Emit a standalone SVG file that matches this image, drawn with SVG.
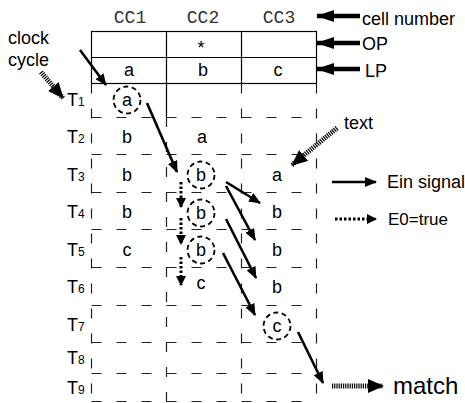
<svg xmlns="http://www.w3.org/2000/svg" width="465" height="403" viewBox="0 0 465 403">
<defs>
<style>
.t{font-family:"Liberation Sans",Arial,sans-serif;fill:#000}
.cell{font-size:18px;text-anchor:middle}
.hdr{font-family:"Liberation Mono","Courier New",monospace;font-size:18px;fill:#333;text-anchor:middle}
.lbl{font-size:18px}
.grid{stroke:#222;stroke-width:1.2;fill:none;stroke-dasharray:10 15}
.solid{stroke:#000;stroke-width:1.2;fill:none}
.circ{stroke:#000;stroke-width:1.8;fill:none;stroke-dasharray:5 3.5}
.ein{stroke:#000;stroke-width:2.6;fill:none;marker-end:url(#ah)}
.e0{stroke:#000;stroke-width:3;fill:none;stroke-dasharray:2.5 2;marker-end:url(#ah2)}
.big{stroke:#000;stroke-width:4.5;fill:none;marker-end:url(#ahb)}
.hatch{stroke:#000;stroke-width:5;fill:none;stroke-dasharray:1.2 1;marker-end:url(#ahh)}
</style>
<marker id="ah" viewBox="0 0 12 10" refX="11" refY="5" markerWidth="12" markerHeight="10" markerUnits="userSpaceOnUse" orient="auto"><path d="M0,0 L12,5 L0,10 z" fill="#000"/></marker>
<marker id="ah2" viewBox="0 0 10 10" refX="9" refY="5" markerWidth="10" markerHeight="10" markerUnits="userSpaceOnUse" orient="auto"><path d="M0,0 L10,5 L0,10 z" fill="#000"/></marker>
<marker id="ahb" viewBox="0 0 18 12" refX="17" refY="6" markerWidth="18" markerHeight="12" markerUnits="userSpaceOnUse" orient="auto"><path d="M0,0 L18,6 L0,12 z" fill="#000"/></marker>
<marker id="ahh" viewBox="0 0 16 14" refX="15" refY="7" markerWidth="16" markerHeight="14" markerUnits="userSpaceOnUse" orient="auto"><path d="M0,0 L16,7 L0,14 z" fill="#000"/></marker>
</defs>

<g id="table">
<rect class="solid" x="91.5" y="31.5" width="225" height="52"/>
<line class="solid" x1="91.5" y1="57.5" x2="316.5" y2="57.5"/>
<line class="solid" x1="166.5" y1="31.5" x2="166.5" y2="117"/>
<line class="solid" x1="241.5" y1="31.5" x2="241.5" y2="83.5"/>
<line class="grid" x1="91.5" y1="83.5" x2="91.5" y2="402"/>
<line class="grid" x1="166.5" y1="117" x2="166.5" y2="402"/>
<line class="grid" x1="241.5" y1="83.5" x2="241.5" y2="402"/>
<line class="grid" x1="316.5" y1="83.5" x2="316.5" y2="402"/>
<line class="grid" x1="91.5" y1="117.5" x2="316.5" y2="117.5"/>
<line class="grid" x1="91.5" y1="154.5" x2="316.5" y2="154.5"/>
<line class="grid" x1="91.5" y1="192.5" x2="316.5" y2="192.5"/>
<line class="grid" x1="91.5" y1="229.5" x2="316.5" y2="229.5"/>
<line class="grid" x1="91.5" y1="267.5" x2="316.5" y2="267.5"/>
<line class="grid" x1="91.5" y1="305.5" x2="316.5" y2="305.5"/>
<line class="grid" x1="91.5" y1="342.5" x2="316.5" y2="342.5"/>
<line class="grid" x1="91.5" y1="373.5" x2="316.5" y2="373.5"/>
<line class="grid" x1="91.5" y1="401.5" x2="316.5" y2="401.5"/>
</g>

<g id="headers">
<text class="hdr" x="130" y="23">CC1</text>
<text class="hdr" x="203" y="23">CC2</text>
<text class="hdr" x="279" y="23">CC3</text>
<text class="t cell" x="201" y="54">*</text>
<text class="t cell" x="129" y="76">a</text>
<text class="t cell" x="203" y="76">b</text>
<text class="t cell" x="278" y="76">c</text>
</g>

<g id="time-labels" class="t">
<text x="67" y="106" font-size="18">T<tspan font-size="12">1</tspan></text>
<text x="67" y="143" font-size="18">T<tspan font-size="12">2</tspan></text>
<text x="67" y="181" font-size="18">T<tspan font-size="12">3</tspan></text>
<text x="67" y="218" font-size="18">T<tspan font-size="12">4</tspan></text>
<text x="67" y="256" font-size="18">T<tspan font-size="12">5</tspan></text>
<text x="67" y="293" font-size="18">T<tspan font-size="12">6</tspan></text>
<text x="67" y="331" font-size="18">T<tspan font-size="12">7</tspan></text>
<text x="67" y="364" font-size="18">T<tspan font-size="12">8</tspan></text>
<text x="67" y="394" font-size="18">T<tspan font-size="12">9</tspan></text>
</g>

<g id="cells">
<circle class="circ" cx="127" cy="100" r="13.5"/>
<text class="t cell" x="127" y="106">a</text>
<text class="t cell" x="127" y="143">b</text>
<text class="t cell" x="202" y="143">a</text>
<text class="t cell" x="127" y="181">b</text>
<circle class="circ" cx="201" cy="175" r="13.5"/>
<text class="t cell" x="201" y="181">b</text>
<text class="t cell" x="277" y="181">a</text>
<text class="t cell" x="127" y="218">b</text>
<circle class="circ" cx="201" cy="213" r="13.5"/>
<text class="t cell" x="201" y="219">b</text>
<text class="t cell" x="277" y="218">b</text>
<text class="t cell" x="127" y="256">c</text>
<circle class="circ" cx="201" cy="250" r="13.5"/>
<text class="t cell" x="201" y="256">b</text>
<text class="t cell" x="277" y="256">b</text>
<text class="t cell" x="201" y="289">c</text>
<text class="t cell" x="277" y="293">b</text>
<circle class="circ" cx="277" cy="326" r="13.5"/>
<text class="t cell" x="277" y="332">c</text>
</g>

<g id="labels" class="t lbl">
<text x="8" y="44">clock</text>
<text x="8" y="66">cycle</text>
<text x="362" y="25">cell number</text>
<text x="362" y="50">OP</text>
<text x="365" y="77">LP</text>
<text x="344" y="129">text</text>
<text x="387" y="188">Ein signal</text>
<text x="388" y="225" font-size="17">E0=true</text>
<text x="393" y="394" font-size="24">match</text>
</g>

<g id="connectors">
<line class="big" x1="360" y1="16" x2="317" y2="16"/>
<line class="big" x1="360" y1="43" x2="317" y2="43"/>
<line class="big" x1="360" y1="69" x2="317" y2="69"/>
<line class="hatch" x1="41" y1="72" x2="63" y2="98"/>
<line class="hatch" x1="337" y1="128" x2="292" y2="165"/>
<line class="hatch" x1="332" y1="386" x2="383" y2="386"/>
<line class="ein" x1="80" y1="50" x2="106" y2="85"/>
<line class="ein" x1="147" y1="103" x2="177" y2="172"/>
<line class="ein" x1="226" y1="182" x2="260" y2="203"/>
<line class="ein" x1="226" y1="186" x2="255" y2="240"/>
<line class="ein" x1="226" y1="219" x2="256" y2="278"/>
<line class="ein" x1="223" y1="253" x2="255" y2="315"/>
<line class="ein" x1="298" y1="332" x2="323" y2="383"/>
<line class="e0" x1="181" y1="182" x2="181" y2="207"/>
<line class="e0" x1="181" y1="218" x2="181" y2="244"/>
<line class="e0" x1="181" y1="257" x2="181" y2="285"/>
<line class="ein" x1="332" y1="182" x2="376" y2="182"/>
<line class="e0" x1="335" y1="219" x2="376" y2="219"/>
</g>
</svg>
